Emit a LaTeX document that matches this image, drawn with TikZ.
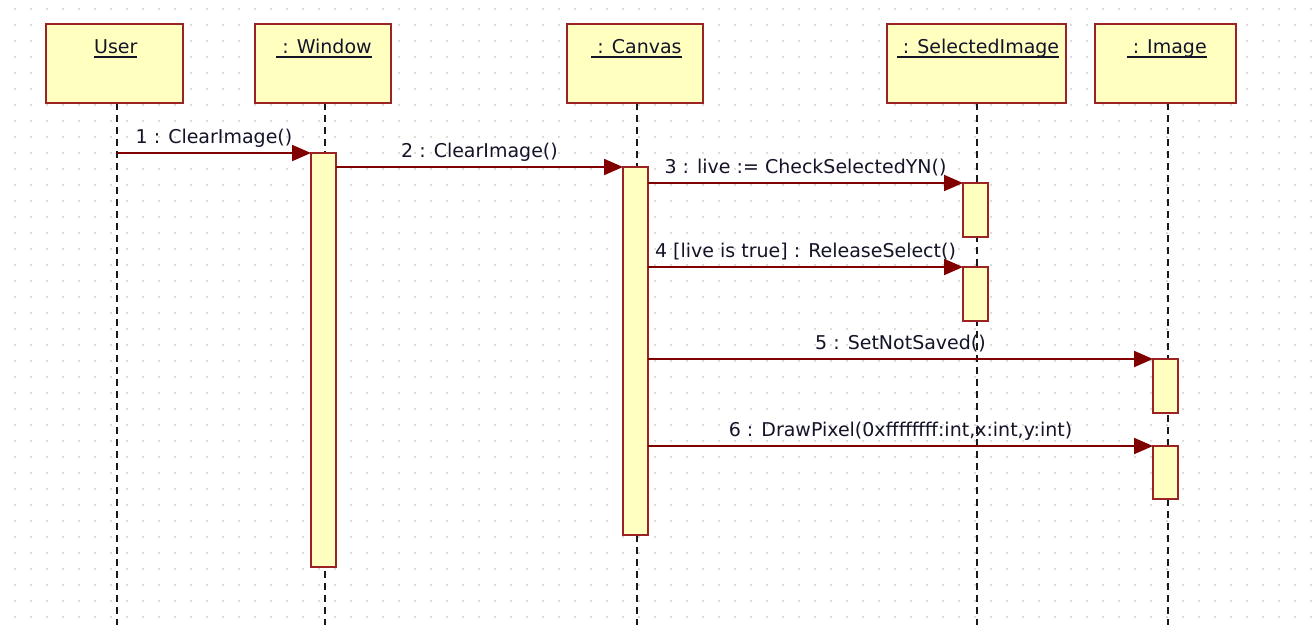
\documentclass[tikz,border=0pt]{standalone}
\usepackage{fontspec}
\setmainfont{DejaVu Sans}
\usetikzlibrary{arrows.meta}
\definecolor{msgc}{RGB}{128,0,0}
\definecolor{boxc}{RGB}{155,35,35}
\definecolor{fillc}{RGB}{255,255,192}
\definecolor{dotc}{RGB}{185,185,185}
\definecolor{txtc}{RGB}{20,20,40}
\newsavebox\ulbox
\newcommand\ulbl[1]{\sbox\ulbox{#1}\rlap{\rule[-5pt]{\wd\ulbox}{1.8pt}}\usebox\ulbox}
\tikzset{
  objbox/.style={draw=boxc, fill=fillc, line width=2pt, rectangle, inner sep=0pt, outer sep=0pt, anchor=north west, minimum height=79pt},
  actbar/.style={draw=boxc, fill=fillc, line width=2pt, rectangle, inner sep=0pt, outer sep=0pt, anchor=north west, minimum width=25pt},
  lifeline/.style={draw=black!90, line width=2pt, dash pattern=on 7pt off 5pt},
  msg/.style={draw=msgc, line width=2pt, -{Triangle[length=19pt,width=16pt]}},
  mlabel/.style={anchor=base, yshift=10pt, inner sep=0pt, text=txtc},
  objtitle/.style={anchor=base, inner sep=0pt, text=txtc}
}
\begin{document}
\begin{tikzpicture}[x=1pt, y=-1pt, font=\fontsize{19}{23}\selectfont]
\fill[white] (0,0) rectangle (1312,625);
\useasboundingbox (0,0) rectangle (1312,625);
% grid dots
\foreach \i in {0,...,81}{
  \foreach \j in {0,...,38}{
    \fill[dotc] ({15+16*\i},{9+16*\j}) circle (0.85);
  }
}
% lifeline coordinates
\coordinate (uTop) at (117,103);  \coordinate (uEnd) at (117,625);
\coordinate (wTop) at (325,103);  \coordinate (wEnd) at (325,625);
\coordinate (cTop) at (637,103);  \coordinate (cEnd) at (637,625);
\coordinate (sTop) at (977,103);  \coordinate (sEnd) at (977,625);
\coordinate (iTop) at (1168,103); \coordinate (iEnd) at (1168,625);
\draw[lifeline] (uTop) -- (uEnd);
\draw[lifeline] (wTop) -- (wEnd);
\draw[lifeline] (cTop) -- (cEnd);
\draw[lifeline] (sTop) -- (sEnd);
\draw[lifeline] (iTop) -- (iEnd);
% object boxes
\node[objbox, minimum width=137pt] (user) at (46,24) {};
\node[objbox, minimum width=136pt] (window) at (255,24) {};
\node[objbox, minimum width=136pt] (canvas) at (567,24) {};
\node[objbox, minimum width=179pt] (selimg) at (887,24) {};
\node[objbox, minimum width=141pt] (image) at (1095,24) {};
\node[objtitle] (userT) at (115.8,53) {\ulbl{User}};
\node[objtitle] (windowT) at (324,53) {\ulbl{\ : Window}};
\node[objtitle] (canvasT) at (636.5,53) {\ulbl{\ : Canvas}};
\node[objtitle] (selimgT) at (978,53) {\ulbl{\ : SelectedImage}};
\node[objtitle] (imageT) at (1166.7,53) {\ulbl{\ : Image}};
% activation bars
\node[actbar, minimum height=414pt] (wbar) at (311,153) {};
\node[actbar, minimum height=368pt] (cbar) at (623,167) {};
\node[actbar, minimum height=54pt] (s1) at (963,183) {};
\node[actbar, minimum height=54pt] (s2) at (963,267) {};
\node[actbar, minimum height=54pt] (i1) at (1153,359) {};
\node[actbar, minimum height=53pt] (i2) at (1153,446) {};
% messages
\coordinate (uA) at (117,153);
\draw[msg] (uA) -- (wbar.north west) node[mlabel, midway] (m1) {1 : ClearImage()};
\draw[msg] (wbar.east |- cbar.north) -- (cbar.north west) node[mlabel, midway] (m2) {2 : ClearImage()};
\draw[msg] (cbar.east |- s1.north) -- (s1.north west) node[mlabel, midway] (m3) {3 : live := CheckSelectedYN()};
\draw[msg] (cbar.east |- s2.north) -- (s2.north west) node[mlabel, midway] (m4) {4 [live is true] : ReleaseSelect()};
\draw[msg] (cbar.east |- i1.north) -- (i1.north west) node[mlabel, midway] (m5) {5 : SetNotSaved()};
\draw[msg] (cbar.east |- i2.north) -- (i2.north west) node[mlabel, midway] (m6) {6 : DrawPixel(0xffffffff:int,x:int,y:int)};
\end{tikzpicture}
\end{document}
